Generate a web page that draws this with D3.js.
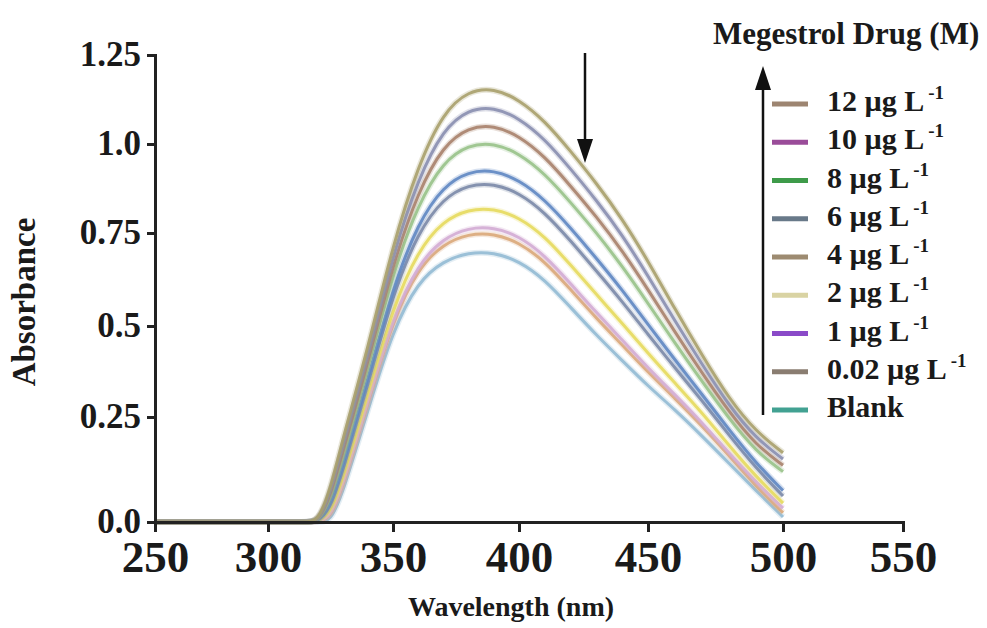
<!DOCTYPE html>
<html>
<head>
<meta charset="utf-8">
<script src="https://cdn.jsdelivr.net/npm/d3@7"></script>
<style>
	body { margin: 0; background: #fff; }
	svg { display: block; }
	text { font-family: "Liberation Serif", "DejaVu Serif", serif; font-weight: bold; fill: #1a1a1a; }
</style>
</head>
<body>
<div id="chart"></div>
<script>
// wavelengths (nm) the spectra were read at
var wavelengths = [250, 300, 315, 320, 325, 330, 340, 350, 360, 370, 380, 390, 400, 410, 420, 430, 440, 450, 460, 470, 480, 490, 500];

// absorbance of each spectrum, top curve first
var specA = [0, 0, 0, 0, 0.08, 0.2, 0.44, 0.72, 0.94, 1.09, 1.15, 1.157, 1.125, 1.065, 0.98, 0.89, 0.79, 0.675, 0.545, 0.42, 0.30, 0.215, 0.165];
var specB = [0, 0, 0, 0, 0.07, 0.185, 0.42, 0.693, 0.903, 1.042, 1.098, 1.104, 1.073, 1.014, 0.93, 0.842, 0.745, 0.635, 0.513, 0.395, 0.281, 0.199, 0.15];
var specC = [0, 0, 0, 0, 0.062, 0.17, 0.401, 0.668, 0.867, 0.996, 1.047, 1.053, 1.023, 0.965, 0.882, 0.796, 0.703, 0.598, 0.483, 0.371, 0.264, 0.183, 0.135];
var specD = [0, 0, 0, 0, 0.053, 0.156, 0.383, 0.643, 0.832, 0.951, 0.998, 1.003, 0.974, 0.917, 0.836, 0.751, 0.661, 0.561, 0.453, 0.348, 0.246, 0.168, 0.12];
var specE = [0, 0, 0, 0, 0.04, 0.135, 0.355, 0.605, 0.779, 0.882, 0.923, 0.927, 0.899, 0.844, 0.764, 0.682, 0.597, 0.504, 0.407, 0.312, 0.22, 0.14, 0.075];
var specF = [0, 0, 0, 0, 0.033, 0.124, 0.341, 0.586, 0.753, 0.848, 0.886, 0.889, 0.863, 0.808, 0.729, 0.648, 0.566, 0.477, 0.385, 0.295, 0.207, 0.128, 0.062];
var specG = [0, 0, 0, 0, 0.021, 0.104, 0.315, 0.551, 0.704, 0.785, 0.817, 0.819, 0.794, 0.741, 0.664, 0.585, 0.507, 0.425, 0.343, 0.262, 0.182, 0.108, 0.045];
var specH = [0, 0, 0, 0, 0.012, 0.089, 0.295, 0.524, 0.667, 0.736, 0.765, 0.766, 0.742, 0.69, 0.614, 0.536, 0.462, 0.385, 0.311, 0.237, 0.164, 0.095, 0.033];
var specI = [0, 0, 0, 0, 0.009, 0.084, 0.289, 0.516, 0.656, 0.721, 0.748, 0.749, 0.725, 0.674, 0.598, 0.521, 0.448, 0.373, 0.301, 0.229, 0.158, 0.085, 0.022];
var specJ = [0, 0, 0, 0, 0, 0.07, 0.27, 0.49, 0.62, 0.675, 0.698, 0.698, 0.675, 0.625, 0.55, 0.475, 0.405, 0.335, 0.27, 0.205, 0.14, 0.075, 0.012];

var spectra = [specA, specB, specC, specD, specE, specF, specG, specH, specI, specJ];
var curveColors = ["#a9a06c", "#8a8eb0", "#a9826c", "#98c28a", "#5f87c2", "#7b8aa9", "#e6da5e", "#d3acd4", "#daa97a", "#92bad4"];

// legend
var legendConc = ["12", "10", "8", "6", "4", "2", "1", "0.02", "Blank"];
var legendColors = ["#9d8571", "#9a4c99", "#3e9b4a", "#687989", "#9d8b71", "#d9d3a3", "#8a4ac8", "#8a7d71", "#42a192"];

var xTicks = [250, 300, 350, 400, 450, 500, 550];
var yTicks = [0, 0.25, 0.5, 0.75, 1.0, 1.25];
var yTickLabels = ["0.0", "0.25", "0.5", "0.75", "1.0", "1.25"];

var width = 987,
	height = 628;

var svg = d3.select("#chart").append("svg")
	.attr("width", width)
	.attr("height", height);

// the scanned axes are slightly uneven, so the scales are calibrated on each tick
var x = d3.scaleLinear()
	.domain(xTicks)
	.range([155, 268, 393, 519, 648, 783, 903]);

var y = d3.scaleLinear()
	.domain(yTicks)
	.range([522, 417, 326, 233, 144, 55]);

var line = d3.line()
	.x(function(d) { return x(d[0]); })
	.y(function(d) { return y(d[1]); })
	.curve(d3.curveBasis);

// spectra, lowest drawn first
var curves = svg.append("g").attr("id", "curves");

d3.range(spectra.length - 1, -1, -1).forEach(function(i) {
	var pts = wavelengths.map(function(w, j) { return [w, spectra[i][j]]; });
	// pale halo, like the scanned original
	curves.append("path")
		.attr("d", line(pts))
		.style("fill", "none")
		.style("stroke", curveColors[i])
		.style("stroke-width", "6px")
		.style("stroke-opacity", 0.25);
	curves.append("path")
		.attr("d", line(pts))
		.style("fill", "none")
		.style("stroke", curveColors[i])
		.style("stroke-width", "3px")
		.style("stroke-opacity", 0.9);
});

// axes
var xAxis = svg.append("g")
	.attr("transform", "translate(0," + y(0) + ")")
	.call(d3.axisBottom(x).tickValues(xTicks).tickSize(10).tickSizeOuter(10).tickFormat(d3.format("d")));

var yAxis = svg.append("g")
	.attr("transform", "translate(" + x(250) + ",0)")
	.call(d3.axisLeft(y).tickValues(yTicks).tickSize(8).tickSizeOuter(8)
		.tickFormat(function(d, i) { return yTickLabels[i]; }));

[xAxis, yAxis].forEach(function(ax) {
	ax.attr("font-family", null).attr("font-size", null);
	ax.selectAll("path, line")
		.style("stroke", "#222")
		.style("stroke-width", "3px");
	ax.selectAll("text").style("fill", "#1a1a1a");
});

xAxis.selectAll("text")
	.attr("y", 50)
	.attr("dy", 0)
	.style("font-size", "45px");

yAxis.selectAll("text")
	.attr("x", -14)
	.attr("dy", "0.3em")
	.style("font-size", "35px");

// axis titles
svg.append("text")
	.attr("x", 511)
	.attr("y", 616)
	.style("text-anchor", "middle")
	.style("font-size", "28px")
	.text("Wavelength (nm)");

svg.append("text")
	.attr("transform", "translate(35,302) rotate(-90)")
	.style("text-anchor", "middle")
	.style("font-size", "33px")
	.text("Absorbance");

// arrow in the plot showing the trend
var arrow = function(g, x0, yFrom, yTip) {
	var dir = yTip > yFrom ? 1 : -1;
	g.append("line")
		.attr("x1", x0).attr("y1", yFrom)
		.attr("x2", x0).attr("y2", yTip - dir * 18)
		.style("stroke", "#111")
		.style("stroke-width", "2.5px");
	g.append("path")
		.attr("d", "M" + (x0 - 8) + "," + (yTip - dir * 24) + "L" + x0 + "," + yTip + "L" + (x0 + 8) + "," + (yTip - dir * 24) + "Z")
		.style("fill", "#111");
};

arrow(svg.append("g"), 585, 53, 163);

// legend
var legend = svg.append("g").attr("id", "legend");

legend.append("text")
	.attr("x", 713)
	.attr("y", 44)
	.style("font-size", "31px")
	.text("Megestrol Drug (M)");

arrow(legend, 763, 415, 66);

var row = d3.scalePoint()
	.domain(legendConc)
	.range([104, 410]);

var items = legend.selectAll(".item")
	.data(legendConc)
	.enter()
	.append("g")
	.attr("class", "item")
	.attr("transform", function(d) { return "translate(0," + row(d) + ")"; });

items.append("line")
	.attr("x1", 772).attr("x2", 808)
	.attr("y1", 0).attr("y2", 0)
	.style("stroke", function(d, i) { return legendColors[i]; })
	.style("stroke-width", "5px");

var labels = items.append("text")
	.attr("x", 827)
	.attr("y", 7)
	.style("font-size", "30px");

labels.append("tspan")
	.text(function(d) { return d == "Blank" ? d : d + " \u00b5g L"; });

labels.filter(function(d) { return d != "Blank"; })
	.append("tspan")
	.attr("dx", 4)
	.attr("dy", -12)
	.style("font-size", "19px")
	.text("-1");
</script>
</body>
</html>
